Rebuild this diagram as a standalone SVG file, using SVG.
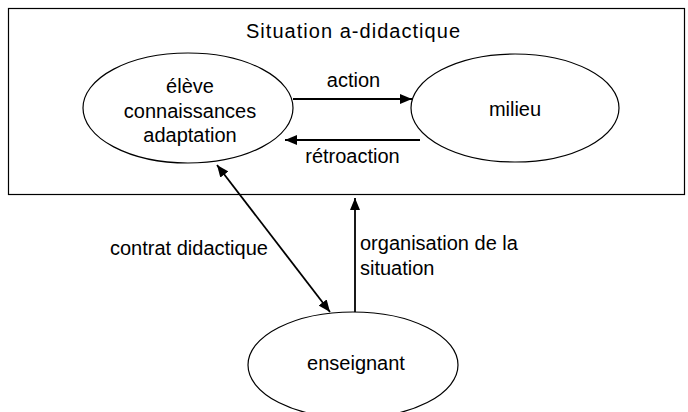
<svg xmlns="http://www.w3.org/2000/svg" width="688" height="412" viewBox="0 0 688 412">
<defs>
<style>
text{font-family:"Liberation Sans",Arial,sans-serif;font-size:20px;fill:#000}
.c{text-anchor:middle}
.n{fill:#fff;stroke:#000;stroke-width:1.2}
.e{stroke:#000;stroke-width:1.8;fill:none}
</style>
<marker id="a" viewBox="0 0 12 10" refX="12" refY="5" markerWidth="12" markerHeight="10" markerUnits="userSpaceOnUse" orient="auto-start-reverse"><path d="M0,0 L12,5 L0,10 Z" fill="#000"/></marker>
</defs>
<rect x="0" y="0" width="688" height="412" fill="#fff"/>
<g id="situation">
<rect x="8.5" y="8.5" width="676" height="186" fill="#fff" stroke="#000" stroke-width="1.2"/>
<text x="246" y="38" textLength="214">Situation a-didactique</text>
</g>
<g id="eleve">
<ellipse class="n" cx="188" cy="108" rx="105" ry="55"/>
<text class="c" x="190" y="93">élève</text>
<text class="c" x="190" y="118">connaissances</text>
<text class="c" x="190" y="142">adaptation</text>
</g>
<g id="milieu">
<ellipse class="n" cx="515" cy="108" rx="104" ry="54"/>
<text class="c" x="515" y="116">milieu</text>
</g>
<g id="enseignant">
<ellipse class="n" cx="353" cy="365" rx="105" ry="53"/>
<text class="c" x="356" y="370">enseignant</text>
</g>
<g id="connectors">
<line class="e" x1="293" y1="99" x2="412" y2="99" marker-end="url(#a)"/>
<line class="e" x1="420" y1="140" x2="285" y2="140" marker-end="url(#a)"/>
<line class="e" x1="217" y1="165" x2="330" y2="312" marker-start="url(#a)" marker-end="url(#a)"/>
<line class="e" x1="355" y1="312" x2="355" y2="198" marker-end="url(#a)"/>
<text class="c" x="353.5" y="87">action</text>
<text class="c" x="352.5" y="163">rétroaction</text>
<text x="110" y="255">contrat didactique</text>
<text x="360" y="250">organisation de la</text>
<text x="360" y="275">situation</text>
</g>
</svg>
